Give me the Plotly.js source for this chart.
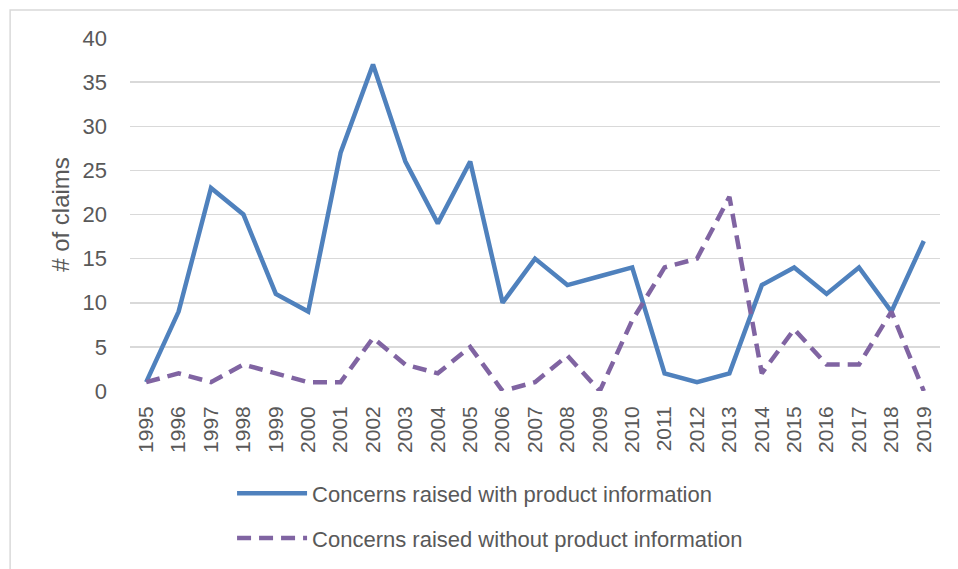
<!DOCTYPE html>
<html>
<head>
<meta charset="utf-8">
<script src="https://cdn.plot.ly/plotly-3.0.1.min.js"></script>
<style>html,body{margin:0;padding:0;background:#fff;}#chart{width:958px;height:569px;}</style>
</head>
<body>
<div id="chart"></div>
<script>
const years = ["1995","1996","1997","1998","1999","2000","2001","2002","2003","2004","2005","2006","2007","2008","2009","2010","2011","2012","2013","2014","2015","2016","2017","2018","2019"];
const withInfo = [1,9,23,20,11,9,27,37,26,19,26,10,15,12,13,14,2,1,2,12,14,11,14,9,17];
const withoutInfo = [1,2,1,3,2,1,1,6,3,2,5,0,1,4,0,8,14,15,22,2,7,3,3,9,0];
const seriesNames = ["Concerns raised with product information","Concerns raised without product information"];
const yTicks = [0,5,10,15,20,25,30,35,40];

const font = "Liberation Sans, Arial, sans-serif";
const txt = "#595959";

const traces = [
  {x: years, y: withInfo, type: "scatter", mode: "lines", name: seriesNames[0], legendgroup: "a",
   line: {color: "#4F81BD", width: 4.5}},
  {x: years, y: withoutInfo, type: "scatter", mode: "lines", name: seriesNames[1], legendgroup: "b",
   line: {color: "#8064A2", width: 4.5, dash: "14px,8px"}}
];

const layout = {
  width: 958, height: 569,
  margin: {l: 130, r: 18, t: 38, b: 178, autoexpand: false},
  paper_bgcolor: "#fff", plot_bgcolor: "#fff",
  font: {family: font, color: txt, size: 21},
  showlegend: true,
  legend: {x: 0.126, xanchor: "left", y: -0.231, yanchor: "top", orientation: "v",
           itemwidth: 70, tracegroupgap: 13, font: {family: font, size: 22, color: txt},
           bgcolor: "rgba(0,0,0,0)"},
  xaxis: {type: "category", range: [-0.5, 24.5], tickangle: -90, showgrid: false, zeroline: false,
          showline: false, ticks: "", ticklabelstandoff: 10, automargin: false,
          tickfont: {size: 21, color: txt}, fixedrange: true},
  yaxis: {range: [0, 40], tickvals: yTicks, showgrid: true, gridcolor: "#D9D9D9", gridwidth: 1.5,
          zeroline: false, showline: false, ticks: "", ticklabelstandoff: 22, automargin: false,
          tickfont: {size: 22, color: txt},
          title: {text: "# of claims", font: {size: 24, color: txt}, standoff: 6}},
  shapes: [
    {type: "rect", xref: "paper", yref: "paper", x0: -0.148, x1: 1.2, y0: -1, y1: 1.079,
     line: {color: "#D9D9D9", width: 1.5}, fillcolor: "rgba(0,0,0,0)", layer: "below"}
  ]
};

Plotly.newPlot("chart", traces, layout, {displayModeBar: false, staticPlot: true});
</script>
</body>
</html>
